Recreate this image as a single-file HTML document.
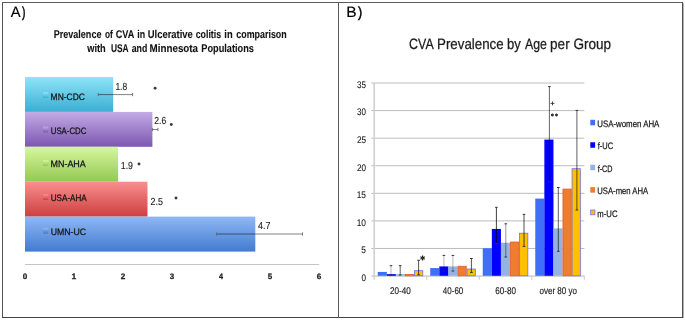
<!DOCTYPE html>
<html><head><meta charset="utf-8"><style>
html,body{margin:0;padding:0;background:#fff;}
svg{display:block;will-change:transform;font-family:"Liberation Sans", sans-serif;text-rendering:geometricPrecision;}
</style></head><body>
<svg width="685" height="320" viewBox="0 0 685 320">
<defs><linearGradient id="g0" x1="0" y1="0" x2="0" y2="1"><stop offset="0" stop-color="#8fe4f8"/><stop offset="1" stop-color="#3aaed2"/></linearGradient><linearGradient id="g1" x1="0" y1="0" x2="0" y2="1"><stop offset="0" stop-color="#c3aae6"/><stop offset="1" stop-color="#7d57b0"/></linearGradient><linearGradient id="g2" x1="0" y1="0" x2="0" y2="1"><stop offset="0" stop-color="#d6f79e"/><stop offset="1" stop-color="#94c852"/></linearGradient><linearGradient id="g3" x1="0" y1="0" x2="0" y2="1"><stop offset="0" stop-color="#f98f8f"/><stop offset="1" stop-color="#cd3f3f"/></linearGradient><linearGradient id="g4" x1="0" y1="0" x2="0" y2="1"><stop offset="0" stop-color="#90b8f4"/><stop offset="1" stop-color="#427bd0"/></linearGradient></defs>
<rect x="0" y="0" width="685" height="320" fill="#fff"/>
<rect x="2" y="2" width="681" height="1" fill="#5c5c5c"/>
<rect x="2" y="2" width="1" height="316" fill="#555"/>
<rect x="682" y="2" width="1" height="316" fill="#4f4f4f"/>
<rect x="683" y="3" width="1" height="315" fill="#b4b4b4"/>
<rect x="2" y="317" width="681" height="1" fill="#444"/>
<line x1="338.5" y1="2" x2="338.5" y2="318" stroke="#5a5a5a" stroke-width="1"/>
<rect x="25.0" y="77.0" width="88.20" height="34.90" fill="url(#g0)"/>
<rect x="25.0" y="111.9" width="127.40" height="34.90" fill="url(#g1)"/>
<rect x="25.0" y="146.8" width="93.10" height="34.90" fill="url(#g2)"/>
<rect x="25.0" y="181.7" width="122.50" height="34.90" fill="url(#g3)"/>
<rect x="25.0" y="216.6" width="230.30" height="35.00" fill="url(#g4)"/>
<rect x="43" y="92.2" width="5.3" height="5.8" fill="url(#g0)"/>
<rect x="43" y="126.6" width="5.3" height="5.8" fill="url(#g1)"/>
<rect x="43" y="160.2" width="5.3" height="5.8" fill="url(#g2)"/>
<rect x="43" y="194.2" width="5.3" height="5.8" fill="url(#g3)"/>
<rect x="43" y="227.9" width="5.3" height="5.8" fill="url(#g4)"/>
<circle cx="155.1" cy="88.2" r="1.45" fill="#3a3a3a"/>
<circle cx="171.3" cy="124.5" r="1.45" fill="#3a3a3a"/>
<circle cx="139.0" cy="164.0" r="1.45" fill="#3a3a3a"/>
<circle cx="176.0" cy="198.0" r="1.45" fill="#3a3a3a"/>
<line x1="98.3" y1="94.6" x2="132.6" y2="94.6" stroke="#000" stroke-opacity="0.55" stroke-width="0.9"/>
<line x1="98.3" y1="93.0" x2="98.3" y2="96.19999999999999" stroke="#666" stroke-width="0.9"/>
<line x1="132.6" y1="93.0" x2="132.6" y2="96.19999999999999" stroke="#666" stroke-width="0.9"/>
<line x1="152.4" y1="129.5" x2="157.9" y2="129.5" stroke="#000" stroke-opacity="0.55" stroke-width="0.9"/>
<line x1="152.4" y1="127.9" x2="152.4" y2="131.1" stroke="#666" stroke-width="0.9"/>
<line x1="157.9" y1="127.9" x2="157.9" y2="131.1" stroke="#666" stroke-width="0.9"/>
<line x1="216.5" y1="234.0" x2="302.5" y2="234.0" stroke="#000" stroke-opacity="0.55" stroke-width="0.9"/>
<line x1="216.5" y1="232.4" x2="216.5" y2="235.6" stroke="#666" stroke-width="0.9"/>
<line x1="302.5" y1="232.4" x2="302.5" y2="235.6" stroke="#666" stroke-width="0.9"/>
<line x1="25" y1="264.5" x2="319.2" y2="264.5" stroke="#c4c4c4" stroke-width="1.2"/>
<line x1="371.3" y1="248.47" x2="584.4" y2="248.47" stroke="#bdbdbd" stroke-width="1"/>
<line x1="371.3" y1="220.89" x2="584.4" y2="220.89" stroke="#bdbdbd" stroke-width="1"/>
<line x1="371.3" y1="193.32" x2="584.4" y2="193.32" stroke="#bdbdbd" stroke-width="1"/>
<line x1="371.3" y1="165.74" x2="584.4" y2="165.74" stroke="#bdbdbd" stroke-width="1"/>
<line x1="371.3" y1="138.17" x2="584.4" y2="138.17" stroke="#bdbdbd" stroke-width="1"/>
<line x1="371.3" y1="110.59" x2="584.4" y2="110.59" stroke="#bdbdbd" stroke-width="1"/>
<line x1="371.3" y1="83.02" x2="584.4" y2="83.02" stroke="#bdbdbd" stroke-width="1"/>
<line x1="371.3" y1="276.2" x2="584.4" y2="276.2" stroke="#c8c8c8" stroke-width="1.2"/>
<rect x="377.70" y="271.94" width="9.10" height="3.86" fill="#3f6ff8"/>
<rect x="386.80" y="274.15" width="9.10" height="1.65" fill="#0000ff"/>
<rect x="395.90" y="274.15" width="9.10" height="1.65" fill="#95b3e0"/>
<rect x="405.40" y="274.55" width="8.30" height="1.25" fill="#ed7d31" stroke="#e8582a" stroke-width="0.8"/>
<rect x="414.50" y="270.69" width="8.30" height="5.11" fill="#ffc000" stroke="#7070e8" stroke-width="0.8"/>
<rect x="430.22" y="268.08" width="9.10" height="7.72" fill="#3f6ff8"/>
<rect x="439.32" y="266.43" width="9.10" height="9.37" fill="#0000ff"/>
<rect x="448.42" y="266.43" width="9.10" height="9.37" fill="#95b3e0"/>
<rect x="457.92" y="266.27" width="8.30" height="9.53" fill="#ed7d31" stroke="#e8582a" stroke-width="0.8"/>
<rect x="467.02" y="269.03" width="8.30" height="6.77" fill="#ffc000" stroke="#7070e8" stroke-width="0.8"/>
<rect x="482.74" y="248.23" width="9.10" height="27.57" fill="#3f6ff8"/>
<rect x="491.84" y="228.93" width="9.10" height="46.87" fill="#0000ff"/>
<rect x="500.94" y="242.72" width="9.10" height="33.08" fill="#95b3e0"/>
<rect x="510.44" y="242.01" width="8.30" height="33.79" fill="#ed7d31" stroke="#e8582a" stroke-width="0.8"/>
<rect x="519.54" y="233.19" width="8.30" height="42.61" fill="#ffc000" stroke="#7070e8" stroke-width="0.8"/>
<rect x="535.26" y="198.60" width="9.10" height="77.20" fill="#3f6ff8"/>
<rect x="544.36" y="139.60" width="9.10" height="136.20" fill="#0000ff"/>
<rect x="553.46" y="228.38" width="9.10" height="47.42" fill="#95b3e0"/>
<rect x="562.96" y="189.08" width="8.30" height="86.72" fill="#ed7d31" stroke="#e8582a" stroke-width="0.8"/>
<rect x="572.06" y="168.68" width="8.30" height="107.12" fill="#ffc000" stroke="#7070e8" stroke-width="0.8"/>
<line x1="391.0" y1="265.7" x2="391.0" y2="275.0" stroke="#000" stroke-opacity="0.28" stroke-width="1"/>
<line x1="389.7" y1="265.7" x2="392.3" y2="265.7" stroke="#333" stroke-width="1"/>
<line x1="389.7" y1="275.0" x2="392.3" y2="275.0" stroke="#333" stroke-width="1"/>
<line x1="400.2" y1="265.7" x2="400.2" y2="275.0" stroke="#000" stroke-opacity="0.62" stroke-width="1"/>
<line x1="398.9" y1="265.7" x2="401.5" y2="265.7" stroke="#333" stroke-width="1"/>
<line x1="398.9" y1="275.0" x2="401.5" y2="275.0" stroke="#333" stroke-width="1"/>
<line x1="418.6" y1="260.3" x2="418.6" y2="274.8" stroke="#000" stroke-opacity="0.68" stroke-width="1"/>
<line x1="417.3" y1="260.3" x2="419.90000000000003" y2="260.3" stroke="#333" stroke-width="1"/>
<line x1="417.3" y1="274.8" x2="419.90000000000003" y2="274.8" stroke="#333" stroke-width="1"/>
<line x1="443.9" y1="255.4" x2="443.9" y2="271.0" stroke="#000" stroke-opacity="0.28" stroke-width="1"/>
<line x1="442.59999999999997" y1="255.4" x2="445.2" y2="255.4" stroke="#333" stroke-width="1"/>
<line x1="442.59999999999997" y1="271.0" x2="445.2" y2="271.0" stroke="#333" stroke-width="1"/>
<line x1="452.9" y1="255.4" x2="452.9" y2="271.0" stroke="#000" stroke-opacity="0.28" stroke-width="1"/>
<line x1="451.59999999999997" y1="255.4" x2="454.2" y2="255.4" stroke="#333" stroke-width="1"/>
<line x1="451.59999999999997" y1="271.0" x2="454.2" y2="271.0" stroke="#333" stroke-width="1"/>
<line x1="471.4" y1="258.5" x2="471.4" y2="272.5" stroke="#000" stroke-opacity="0.68" stroke-width="1"/>
<line x1="470.09999999999997" y1="258.5" x2="472.7" y2="258.5" stroke="#333" stroke-width="1"/>
<line x1="470.09999999999997" y1="272.5" x2="472.7" y2="272.5" stroke="#333" stroke-width="1"/>
<line x1="496.4" y1="207.3" x2="496.4" y2="243.4" stroke="#000" stroke-opacity="0.75" stroke-width="1"/>
<line x1="495.09999999999997" y1="207.3" x2="497.7" y2="207.3" stroke="#333" stroke-width="1"/>
<line x1="495.09999999999997" y1="243.4" x2="497.7" y2="243.4" stroke="#333" stroke-width="1"/>
<line x1="505.8" y1="223.8" x2="505.8" y2="257.0" stroke="#000" stroke-opacity="0.42" stroke-width="1"/>
<line x1="504.5" y1="223.8" x2="507.1" y2="223.8" stroke="#333" stroke-width="1"/>
<line x1="504.5" y1="257.0" x2="507.1" y2="257.0" stroke="#333" stroke-width="1"/>
<line x1="524.0" y1="214.4" x2="524.0" y2="246.4" stroke="#000" stroke-opacity="0.68" stroke-width="1"/>
<line x1="522.7" y1="214.4" x2="525.3" y2="214.4" stroke="#333" stroke-width="1"/>
<line x1="522.7" y1="246.4" x2="525.3" y2="246.4" stroke="#333" stroke-width="1"/>
<line x1="549.4" y1="86.6" x2="549.4" y2="181.3" stroke="#000" stroke-opacity="0.6" stroke-width="1"/>
<line x1="548.1" y1="86.6" x2="550.6999999999999" y2="86.6" stroke="#333" stroke-width="1"/>
<line x1="548.1" y1="181.3" x2="550.6999999999999" y2="181.3" stroke="#333" stroke-width="1"/>
<line x1="558.3" y1="187.5" x2="558.3" y2="251.3" stroke="#000" stroke-opacity="0.62" stroke-width="1"/>
<line x1="557.0" y1="187.5" x2="559.5999999999999" y2="187.5" stroke="#333" stroke-width="1"/>
<line x1="557.0" y1="251.3" x2="559.5999999999999" y2="251.3" stroke="#333" stroke-width="1"/>
<line x1="576.9" y1="110.4" x2="576.9" y2="210.0" stroke="#000" stroke-opacity="0.62" stroke-width="1"/>
<line x1="575.6" y1="110.4" x2="578.1999999999999" y2="110.4" stroke="#333" stroke-width="1"/>
<line x1="575.6" y1="210.0" x2="578.1999999999999" y2="210.0" stroke="#333" stroke-width="1"/>
<line x1="374.2" y1="83.02" x2="374.2" y2="279.5" stroke="#d0d0d0" stroke-width="1.6"/>
<line x1="426.72" y1="275.80" x2="426.72" y2="279.8" stroke="#c8c8c8" stroke-width="1"/>
<line x1="479.24" y1="275.80" x2="479.24" y2="279.8" stroke="#c8c8c8" stroke-width="1"/>
<line x1="531.76" y1="275.80" x2="531.76" y2="279.8" stroke="#c8c8c8" stroke-width="1"/>
<line x1="584.28" y1="275.80" x2="584.28" y2="279.8" stroke="#c8c8c8" stroke-width="1"/>
<path d="M422.60 255.50L422.60 260.50M424.77 256.75L420.43 259.25M424.77 259.25L420.43 256.75" stroke="#222" stroke-width="1.2" fill="none"/>
<path d="M550.6 103.4H554.4M552.5 101.5V105.3" stroke="#333" stroke-width="0.9"/>
<path d="M552.40 113.50L552.40 116.50M553.70 114.25L551.10 115.75M553.70 115.75L551.10 114.25" stroke="#333" stroke-width="1.05" fill="none"/>
<path d="M556.50 113.50L556.50 116.50M557.80 114.25L555.20 115.75M557.80 115.75L555.20 114.25" stroke="#333" stroke-width="1.05" fill="none"/>
<rect x="590.3" y="119.80" width="4.8" height="5.5" fill="#3f6ff8"/>
<rect x="590.3" y="142.25" width="4.8" height="5.5" fill="#0000ff"/>
<rect x="590.3" y="164.70" width="4.8" height="5.5" fill="#95b3e0"/>
<rect x="590.3" y="187.15" width="4.8" height="5.5" fill="#ed7d31"/>
<rect x="590.7" y="210.00" width="4.2" height="4.8" fill="#ffc000" stroke="#7070e8" stroke-width="0.8"/>
<text x="10.70" y="16.6" font-size="15.0" fill="#000" stroke="#000" stroke-width="0.15" textLength="9.86" lengthAdjust="spacingAndGlyphs">A</text>
<text x="22.10" y="16.7" font-size="14.6" fill="#000" stroke="#000" stroke-width="0.5" textLength="3.45" lengthAdjust="spacingAndGlyphs">)</text>
<text x="346.36" y="16.7" font-size="15.0" fill="#000" stroke="#000" stroke-width="0.15" textLength="10.38" lengthAdjust="spacingAndGlyphs">B</text>
<text x="358.10" y="16.7" font-size="14.6" fill="#000" stroke="#000" stroke-width="0.5" textLength="4.16" lengthAdjust="spacingAndGlyphs">)</text>
<text x="53.76" y="37.7" font-size="11.2" font-weight="bold" fill="#111" stroke="#111" stroke-width="0.1" textLength="47.68" lengthAdjust="spacingAndGlyphs">Prevalence</text>
<text x="105.05" y="37.7" font-size="11.2" font-weight="bold" fill="#111" stroke="#111" stroke-width="0.1" textLength="7.79" lengthAdjust="spacingAndGlyphs">of</text>
<text x="115.74" y="37.7" font-size="11.2" font-weight="bold" fill="#111" stroke="#111" stroke-width="0.1" textLength="18.57" lengthAdjust="spacingAndGlyphs">CVA</text>
<text x="137.27" y="37.7" font-size="11.2" font-weight="bold" fill="#111" stroke="#111" stroke-width="0.1" textLength="7.87" lengthAdjust="spacingAndGlyphs">in</text>
<text x="147.73" y="37.7" font-size="11.2" font-weight="bold" fill="#111" stroke="#111" stroke-width="0.1" textLength="45.11" lengthAdjust="spacingAndGlyphs">Ulcerative</text>
<text x="195.74" y="37.7" font-size="11.2" font-weight="bold" fill="#111" stroke="#111" stroke-width="0.1" textLength="25.38" lengthAdjust="spacingAndGlyphs">colitis</text>
<text x="224.34" y="37.7" font-size="11.2" font-weight="bold" fill="#111" stroke="#111" stroke-width="0.1" textLength="8.33" lengthAdjust="spacingAndGlyphs">in</text>
<text x="236.33" y="37.7" font-size="11.2" font-weight="bold" fill="#111" stroke="#111" stroke-width="0.1" textLength="50.41" lengthAdjust="spacingAndGlyphs">comparison</text>
<text x="87.29" y="51.9" font-size="11.2" font-weight="bold" fill="#111" stroke="#111" stroke-width="0.1" textLength="18.47" lengthAdjust="spacingAndGlyphs">with</text>
<text x="110.90" y="51.9" font-size="11.2" font-weight="bold" fill="#111" stroke="#111" stroke-width="0.1" textLength="17.69" lengthAdjust="spacingAndGlyphs">USA</text>
<text x="131.72" y="51.9" font-size="11.2" font-weight="bold" fill="#111" stroke="#111" stroke-width="0.1" textLength="15.61" lengthAdjust="spacingAndGlyphs">and</text>
<text x="149.61" y="51.9" font-size="11.2" font-weight="bold" fill="#111" stroke="#111" stroke-width="0.1" textLength="48.45" lengthAdjust="spacingAndGlyphs">Minnesota</text>
<text x="201.35" y="51.9" font-size="11.2" font-weight="bold" fill="#111" stroke="#111" stroke-width="0.1" textLength="52.58" lengthAdjust="spacingAndGlyphs">Populations</text>
<text x="50.62" y="99.5" font-size="9.3" fill="#151515" stroke="#151515" stroke-width="0.25" textLength="34.25" lengthAdjust="spacingAndGlyphs">MN-CDC</text>
<text x="50.75" y="133.9" font-size="9.3" fill="#151515" stroke="#151515" stroke-width="0.25" textLength="35.60" lengthAdjust="spacingAndGlyphs">USA-CDC</text>
<text x="50.59" y="167.45" font-size="9.3" fill="#151515" stroke="#151515" stroke-width="0.25" textLength="35.19" lengthAdjust="spacingAndGlyphs">MN-AHA</text>
<text x="50.73" y="201.45" font-size="9.3" fill="#151515" stroke="#151515" stroke-width="0.25" textLength="36.04" lengthAdjust="spacingAndGlyphs">USA-AHA</text>
<text x="50.69" y="235.15" font-size="9.3" fill="#151515" stroke="#151515" stroke-width="0.25" textLength="35.39" lengthAdjust="spacingAndGlyphs">UMN-UC</text>
<text x="115.41" y="89.65" font-size="10.2" fill="#222" stroke="#222" stroke-width="0.12" textLength="11.80" lengthAdjust="spacingAndGlyphs">1.8</text>
<text x="154.37" y="123.65" font-size="10.2" fill="#222" stroke="#222" stroke-width="0.12" textLength="11.83" lengthAdjust="spacingAndGlyphs">2.6</text>
<text x="120.78" y="169.05" font-size="10.2" fill="#222" stroke="#222" stroke-width="0.12" textLength="12.22" lengthAdjust="spacingAndGlyphs">1.9</text>
<text x="150.56" y="204.55" font-size="10.2" fill="#222" stroke="#222" stroke-width="0.12" textLength="12.37" lengthAdjust="spacingAndGlyphs">2.5</text>
<text x="257.92" y="229.15" font-size="10.2" fill="#222" stroke="#222" stroke-width="0.12" textLength="12.49" lengthAdjust="spacingAndGlyphs">4.7</text>
<text x="22.76" y="278.6" font-size="7.9" font-weight="bold" fill="#222" stroke="#222" stroke-width="0.25" textLength="4.54" lengthAdjust="spacingAndGlyphs">0</text>
<text x="71.49" y="278.6" font-size="7.9" font-weight="bold" fill="#222" stroke="#222" stroke-width="0.25" textLength="4.73" lengthAdjust="spacingAndGlyphs">1</text>
<text x="120.76" y="278.6" font-size="7.9" font-weight="bold" fill="#222" stroke="#222" stroke-width="0.25" textLength="4.54" lengthAdjust="spacingAndGlyphs">2</text>
<text x="169.84" y="278.6" font-size="7.9" font-weight="bold" fill="#222" stroke="#222" stroke-width="0.25" textLength="4.45" lengthAdjust="spacingAndGlyphs">3</text>
<text x="218.93" y="278.6" font-size="7.9" font-weight="bold" fill="#222" stroke="#222" stroke-width="0.25" textLength="4.04" lengthAdjust="spacingAndGlyphs">4</text>
<text x="267.76" y="278.6" font-size="7.9" font-weight="bold" fill="#222" stroke="#222" stroke-width="0.25" textLength="4.45" lengthAdjust="spacingAndGlyphs">5</text>
<text x="316.76" y="278.6" font-size="7.9" font-weight="bold" fill="#222" stroke="#222" stroke-width="0.25" textLength="4.54" lengthAdjust="spacingAndGlyphs">6</text>
<text x="409.08" y="48.9" font-size="15.0" fill="#1a1a1a" stroke="#1a1a1a" stroke-width="0.25" textLength="24.58" lengthAdjust="spacingAndGlyphs">CVA</text>
<text x="437.04" y="48.9" font-size="15.0" fill="#1a1a1a" stroke="#1a1a1a" stroke-width="0.25" textLength="66.54" lengthAdjust="spacingAndGlyphs">Prevalence</text>
<text x="507.02" y="48.9" font-size="15.0" fill="#1a1a1a" stroke="#1a1a1a" stroke-width="0.25" textLength="13.78" lengthAdjust="spacingAndGlyphs">by</text>
<text x="525.00" y="48.9" font-size="15.0" fill="#1a1a1a" stroke="#1a1a1a" stroke-width="0.25" textLength="21.95" lengthAdjust="spacingAndGlyphs">Age</text>
<text x="550.09" y="48.9" font-size="15.0" fill="#1a1a1a" stroke="#1a1a1a" stroke-width="0.25" textLength="19.59" lengthAdjust="spacingAndGlyphs">per</text>
<text x="573.42" y="48.9" font-size="15.0" fill="#1a1a1a" stroke="#1a1a1a" stroke-width="0.25" textLength="37.67" lengthAdjust="spacingAndGlyphs">Group</text>
<text x="361.46" y="280.94" font-size="9.6" fill="#1a1a1a" stroke="#1a1a1a" stroke-width="0.1" textLength="4.54" lengthAdjust="spacingAndGlyphs">0</text>
<text x="361.37" y="253.37" font-size="9.6" fill="#1a1a1a" stroke="#1a1a1a" stroke-width="0.1" textLength="4.63" lengthAdjust="spacingAndGlyphs">5</text>
<text x="356.72" y="225.79" font-size="9.6" fill="#1a1a1a" stroke="#1a1a1a" stroke-width="0.1" textLength="9.29" lengthAdjust="spacingAndGlyphs">10</text>
<text x="356.72" y="198.22" font-size="9.6" fill="#1a1a1a" stroke="#1a1a1a" stroke-width="0.1" textLength="9.29" lengthAdjust="spacingAndGlyphs">15</text>
<text x="356.89" y="170.64" font-size="9.6" fill="#1a1a1a" stroke="#1a1a1a" stroke-width="0.1" textLength="9.11" lengthAdjust="spacingAndGlyphs">20</text>
<text x="356.89" y="143.07" font-size="9.6" fill="#1a1a1a" stroke="#1a1a1a" stroke-width="0.1" textLength="9.11" lengthAdjust="spacingAndGlyphs">25</text>
<text x="357.06" y="115.49" font-size="9.6" fill="#1a1a1a" stroke="#1a1a1a" stroke-width="0.1" textLength="8.93" lengthAdjust="spacingAndGlyphs">30</text>
<text x="357.06" y="87.92" font-size="9.6" fill="#1a1a1a" stroke="#1a1a1a" stroke-width="0.1" textLength="8.93" lengthAdjust="spacingAndGlyphs">35</text>
<text x="389.99" y="293.8" font-size="9.8" fill="#1a1a1a" stroke="#1a1a1a" stroke-width="0.15" textLength="20.80" lengthAdjust="spacingAndGlyphs">20-40</text>
<text x="442.84" y="293.8" font-size="9.8" fill="#1a1a1a" stroke="#1a1a1a" stroke-width="0.15" textLength="20.45" lengthAdjust="spacingAndGlyphs">40-60</text>
<text x="495.19" y="293.8" font-size="9.8" fill="#1a1a1a" stroke="#1a1a1a" stroke-width="0.15" textLength="20.80" lengthAdjust="spacingAndGlyphs">60-80</text>
<text x="539.48" y="293.8" font-size="9.8" fill="#1a1a1a" stroke="#1a1a1a" stroke-width="0.15" textLength="37.51" lengthAdjust="spacingAndGlyphs">over 80 yo</text>
<text x="597.25" y="126.7" font-size="9.4" fill="#1a1a1a" stroke="#1a1a1a" stroke-width="0.25" textLength="62.12" lengthAdjust="spacingAndGlyphs">USA-women AHA</text>
<text x="597.72" y="149.15" font-size="9.4" fill="#1a1a1a" stroke="#1a1a1a" stroke-width="0.25" textLength="15.42" lengthAdjust="spacingAndGlyphs">f-UC</text>
<text x="597.73" y="171.6" font-size="9.4" fill="#1a1a1a" stroke="#1a1a1a" stroke-width="0.25" textLength="14.78" lengthAdjust="spacingAndGlyphs">f-CD</text>
<text x="597.27" y="194.05" font-size="9.4" fill="#1a1a1a" stroke="#1a1a1a" stroke-width="0.25" textLength="50.91" lengthAdjust="spacingAndGlyphs">USA-men AHA</text>
<text x="597.34" y="216.5" font-size="9.4" fill="#1a1a1a" stroke="#1a1a1a" stroke-width="0.25" textLength="20.21" lengthAdjust="spacingAndGlyphs">m-UC</text>
</svg>
</body></html>
